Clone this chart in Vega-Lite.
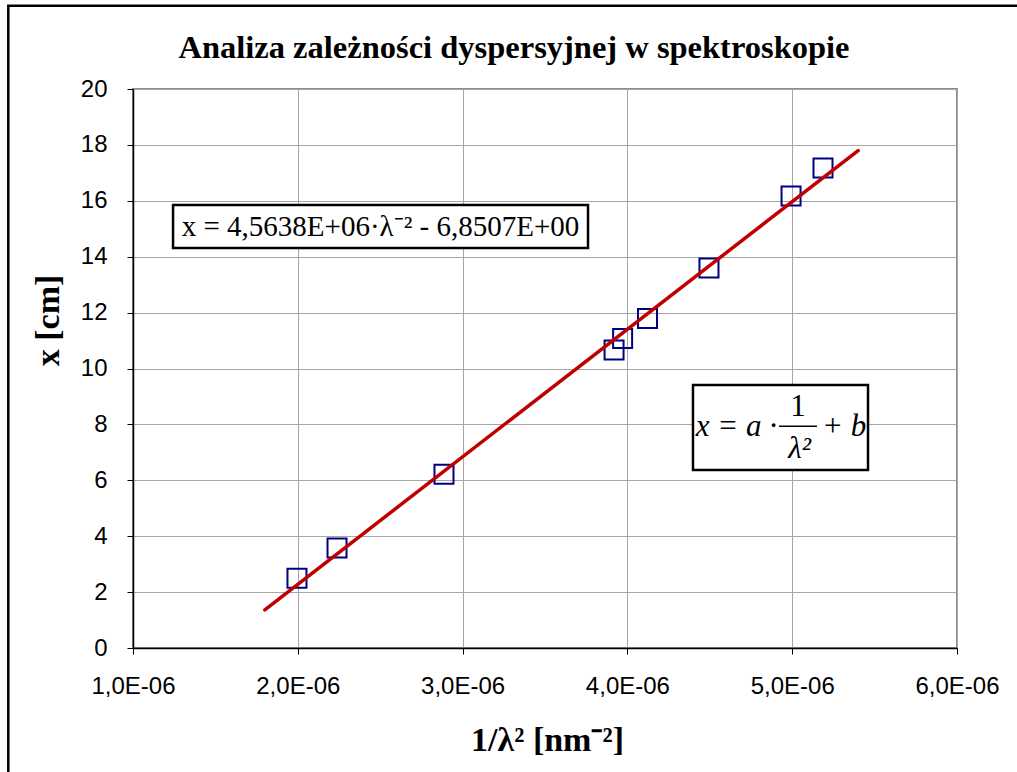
{
  "$schema": "https://vega.github.io/schema/vega-lite/v6.json",
  "width": 824,
  "height": 559,
  "autosize": {"type": "none"},
  "padding": {"left": 133, "top": 89, "right": 60, "bottom": 124},
  "background": "white",
  "title": {
    "text": "Analiza zależności dyspersyjnej w spektroskopie",
    "font": "Liberation Serif",
    "fontSize": 32.5,
    "fontWeight": "bold",
    "color": "black",
    "anchor": "middle",
    "frame": "group",
    "offset": -60,
    "dx": -31
  },
  "config": {
    "view": {"stroke": "#8c8c8c", "strokeWidth": 2},
    "axis": {
      "labelFont": "Liberation Sans",
      "labelFontSize": 24,
      "labelColor": "black",
      "labelFlush": false,
      "labelOverlap": false,
      "titleFont": "Liberation Serif",
      "titleFontSize": 34,
      "titleFontWeight": "bold",
      "titleColor": "black",
      "domainColor": "black",
      "domainWidth": 1.5,
      "tickColor": "black",
      "tickSize": 6,
      "gridColor": "#a6a6a6",
      "gridWidth": 1
    }
  },
  "layer": [
    {
      "data": {"values": [
        {"fx1": 0.2433e-6, "fx2": 7.5e-6, "fy1": -10, "fy2": 22.98}
      ]},
      "mark": {"type": "rect", "fill": null, "fillOpacity": 0, "stroke": "black", "strokeWidth": 2.5, "clip": false},
      "encoding": {
        "x": {"field": "fx1", "type": "quantitative"},
        "x2": {"field": "fx2"},
        "y": {"field": "fy1", "type": "quantitative"},
        "y2": {"field": "fy2"}
      }
    },
    {
      "data": {"values": [
        {"inv_lambda2": 1.995e-6, "x_cm": 2.50},
        {"inv_lambda2": 2.238e-6, "x_cm": 3.58},
        {"inv_lambda2": 2.887e-6, "x_cm": 6.22},
        {"inv_lambda2": 3.919e-6, "x_cm": 10.66},
        {"inv_lambda2": 3.971e-6, "x_cm": 11.07},
        {"inv_lambda2": 4.122e-6, "x_cm": 11.79},
        {"inv_lambda2": 4.495e-6, "x_cm": 13.60},
        {"inv_lambda2": 4.993e-6, "x_cm": 16.17},
        {"inv_lambda2": 5.187e-6, "x_cm": 17.17}
      ]},
      "mark": {"type": "point", "shape": "square", "filled": false, "color": "#000080", "size": 361, "strokeWidth": 2, "opacity": 1},
      "encoding": {
        "x": {
          "field": "inv_lambda2", "type": "quantitative",
          "scale": {"domain": [1e-6, 6e-6], "nice": false, "zero": false},
          "axis": {
            "title": "1/λ²  [nm⁻²]",
            "values": [1e-6, 2e-6, 3e-6, 4e-6, 5e-6, 6e-6],
            "labelExpr": "replace(replace(format(datum.value, '.1e'), '.', ','), 'e-', 'E-0')",
            "labelPadding": 20,
            "titleX": 414,
            "titleY": 92,
            "titleBaseline": "middle",
            "titleAlign": "center"
          }
        },
        "y": {
          "field": "x_cm", "type": "quantitative",
          "scale": {"domain": [0, 20], "nice": false},
          "axis": {
            "title": "x [cm]",
            "values": [0, 2, 4, 6, 8, 10, 12, 14, 16, 18, 20],
            "labelPadding": 20,
            "titleAngle": -90,
            "titleX": -85,
            "titleY": 231,
            "titleBaseline": "middle",
            "titleAlign": "center"
          }
        }
      }
    },
    {
      "data": {"values": [
        {"inv_lambda2": 1.8e-6, "fit": 1.364},
        {"inv_lambda2": 5.4e-6, "fit": 17.794}
      ]},
      "mark": {"type": "line", "color": "#c00000", "strokeWidth": 3.5, "strokeCap": "round"},
      "encoding": {
        "x": {"field": "inv_lambda2", "type": "quantitative"},
        "y": {"field": "fit", "type": "quantitative"}
      }
    },
    {
      "data": {"values": [
        {"x1": 1.243e-6, "x2": 3.761e-6, "y1": 14.31, "y2": 15.85},
        {"x1": 4.398e-6, "x2": 5.460e-6, "y1": 6.37, "y2": 9.41}
      ]},
      "mark": {"type": "rect", "fill": "white", "stroke": "black", "strokeWidth": 2.5},
      "encoding": {
        "x": {"field": "x1", "type": "quantitative"},
        "x2": {"field": "x2"},
        "y": {"field": "y1", "type": "quantitative"},
        "y2": {"field": "y2"}
      }
    },
    {
      "data": {"values": [
        {"tx": 2.502e-6, "ty": 15.08, "label": "x = 4,5638E+06·λ⁻² - 6,8507E+00"}
      ]},
      "mark": {"type": "text", "font": "Liberation Serif", "fontSize": 29, "color": "black", "align": "center", "baseline": "middle"},
      "encoding": {
        "x": {"field": "tx", "type": "quantitative"},
        "y": {"field": "ty", "type": "quantitative"},
        "text": {"field": "label"}
      }
    },
    {
      "data": {"values": [
        {"tx": 4.908e-6, "ty": 7.907, "label": "x = a ·"}
      ]},
      "mark": {"type": "text", "font": "Liberation Serif", "fontStyle": "italic", "fontSize": 31, "color": "black", "align": "right", "baseline": "middle"},
      "encoding": {
        "x": {"field": "tx", "type": "quantitative"},
        "y": {"field": "ty", "type": "quantitative"},
        "text": {"field": "label"}
      }
    },
    {
      "data": {"values": [
        {"tx": 5.035e-6, "ty": 8.62, "label": "1"}
      ]},
      "mark": {"type": "text", "font": "Liberation Serif", "fontSize": 31, "color": "black", "align": "center", "baseline": "middle"},
      "encoding": {
        "x": {"field": "tx", "type": "quantitative"},
        "y": {"field": "ty", "type": "quantitative"},
        "text": {"field": "label"}
      }
    },
    {
      "data": {"values": [
        {"tx": 5.045e-6, "ty": 7.12, "label": "λ²"}
      ]},
      "mark": {"type": "text", "font": "Liberation Serif", "fontStyle": "italic", "fontSize": 31, "color": "black", "align": "center", "baseline": "middle"},
      "encoding": {
        "x": {"field": "tx", "type": "quantitative"},
        "y": {"field": "ty", "type": "quantitative"},
        "text": {"field": "label"}
      }
    },
    {
      "data": {"values": [
        {"tx": 5.181e-6, "ty": 7.907, "label": "+ b"}
      ]},
      "mark": {"type": "text", "font": "Liberation Serif", "fontStyle": "italic", "fontSize": 31, "color": "black", "align": "left", "baseline": "middle"},
      "encoding": {
        "x": {"field": "tx", "type": "quantitative"},
        "y": {"field": "ty", "type": "quantitative"},
        "text": {"field": "label"}
      }
    },
    {
      "data": {"values": [
        {"bx1": 4.920e-6, "bx2": 5.150e-6, "by": 7.93}
      ]},
      "mark": {"type": "rule", "color": "black", "strokeWidth": 1.5},
      "encoding": {
        "x": {"field": "bx1", "type": "quantitative"},
        "x2": {"field": "bx2"},
        "y": {"field": "by", "type": "quantitative"}
      }
    }
  ]
}
